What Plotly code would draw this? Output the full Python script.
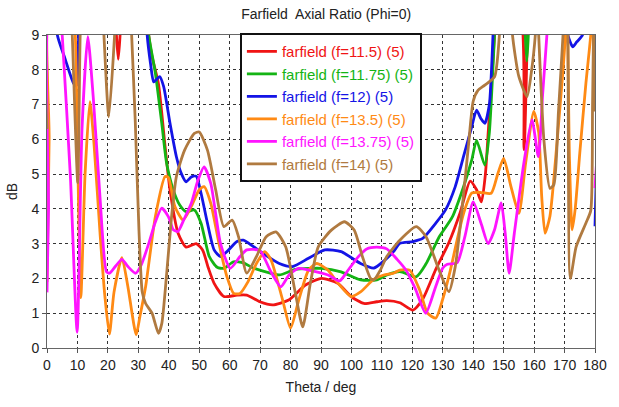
import plotly.graph_objects as go

# ---- data (theta in deg, axial ratio in dB; values of 10 = above visible range) ----
theta_115 = [0, 22.3, 22.8, 23.4, 24.0, 24.4, 32.5, 33.4, 34.5, 36.6, 38.8, 40.4, 43.1, 45.7, 49, 51.1, 53, 54.9, 58.1, 62.4,
             65.6, 69.9, 74.1, 79.4, 84.9, 90.2, 95.5, 99.9, 104.1, 108.3, 111.6, 115.9, 120.2, 123.4, 127.7, 132,
             135.7, 139, 141.1, 142.7, 144, 145, 147, 147.5, 154.8, 156.7, 157.8, 158.3, 180]
ar_115 = [10, 10, 9, 8.3, 9, 10, 10, 9, 8.38, 7.6, 5.79, 4.54, 3.29, 2.9, 3.0, 2.82, 2.3, 1.86, 1.48, 1.52,
          1.52, 1.33, 1.24, 1.38, 1.81, 2.0, 1.86, 1.48, 1.28, 1.33, 1.36, 1.3, 1.09, 1.4, 2.26, 3.03,
          3.89, 4.8, 4.55, 4.2, 5.0, 6.3, 9, 10, 10, 5.7, 9, 10, 10]

theta_1175 = [0, 32.5, 33.4, 35.6, 37.7, 39.3, 41.5, 43.6, 45.7, 48.4, 50.6, 53.3, 55.9, 58.1, 61.3, 64.5, 67.7, 69.9,
              76.3, 81.6, 90.2, 96.6, 103, 108.3, 111.6, 115.9, 121.3, 124.5, 128.8, 133.1, 136.8, 139.5, 141.1,
              143.8, 145.3, 147, 147.6, 156.8, 157.1, 157.6, 158.1, 158.4, 180]
ar_1175 = [10, 10, 9, 7.9, 6.46, 5.31, 4.54, 4.11, 3.92, 3.97, 3.59, 2.63, 2.32, 2.29, 2.48, 2.45, 2.3, 2.24,
           2.1, 2.26, 2.29, 2.19, 1.96, 1.96, 2.1, 2.2, 2.05, 2.42, 3.19, 3.76, 4.63, 5.4, 5.97,
           5.26, 6.2, 9, 10, 10, 9, 8.25, 9, 10, 10]

theta_12 = [0, 0.8, 3, 3.4, 6, 8.8, 9.7, 10.4, 10.8, 32.5, 32.9, 34, 35, 35.7, 37, 38.3, 40.4, 42.5, 44.1, 45.7, 47.4,
            49, 50.6, 52.7, 54.9, 57, 59.1, 62.4, 64.5, 67.7, 70.9, 76.3, 80.6, 85.9, 91.3, 96.6, 103, 107.4,
            110.6, 113.8, 115.9, 120.2, 123.4, 127.7, 130.9, 134.1, 136.8, 139.5, 141.1, 142.5, 143.8, 145.3,
            146.5, 147, 170, 171.1, 172.7, 174, 175.9, 176.5, 179.5, 180]
ar_12 = [7.5, 10, 10, 9, 8.3, 7.6, 7.55, 9, 10, 10, 9, 8.18, 7.65, 7.7, 7.8, 7.52, 6.46, 5.5, 5.02, 4.78, 4.92,
         4.94, 4.45, 3.59, 2.82, 2.63, 2.77, 3.06, 3.1, 2.92, 2.72, 2.43, 2.34, 2.58, 2.82, 2.77, 2.43, 2.3,
         2.5, 2.77, 3.01, 3.06, 3.15, 3.59, 3.97, 4.64, 5.5, 6.36, 6.84, 6.6, 6.46, 7.0,
         9, 10, 10, 9, 8.66, 8.8, 9, 10, 10, 3.5]

theta_135 = [0, 0.7, 1.2, 8.5, 9.3, 11.1, 12.5, 14.1, 15.5, 17.5, 19, 20.5, 22, 24.6, 26.5, 29.3, 30.5, 32.4, 35.6,
             38.8, 39.9, 42, 44.7, 47.4, 50, 51.6, 53.8, 56.5, 59.1, 61.3, 63.4, 66, 68.8, 71.5, 73.6, 77.4, 80,
             82.7, 85.9, 88.6, 92.3, 95.6, 99.9, 103.1, 107.4, 110.6, 113.8, 115.9, 119.1, 122.4, 125, 127.7,
             129.9, 132.5, 134.7, 136.8, 139.5, 142.7, 145.9, 148.1, 150, 152.4, 155, 157.2, 159.9, 161.5, 162.5,
             163.6, 165.2, 167.4, 169.5, 170.3, 170.8, 171.6, 172.5, 173.5, 175, 177, 178.6, 179.2, 180]
ar_135 = [1.9, 6, 10, 10, 9, 1.45, 5, 7.08, 5.8, 3.2, 1.5, 0.4, 1.6, 2.6, 1.8, 0.38, 0.9, 1.77, 3.78,
          4.93, 4.9, 4.07, 3.68, 4.07, 4.55, 4.64, 4.16, 3.0, 2.05, 1.57, 1.57, 1.9, 2.43, 2.77, 2.53, 1.38, 0.57,
          1.38, 2.24, 2.43, 2.24, 1.86, 1.48, 1.62, 1.98, 2.1, 2.15, 2.24, 2.24, 1.67, 1.0, 0.86,
          1.38, 2.24, 3.1, 3.86, 4.45, 4.47, 4.45, 5.02, 5.45, 4.64, 3.87, 5.31, 6.8, 6.2, 4.35,
          3.3, 3.79, 5.79, 8.0, 9, 10, 5.5, 3.4, 4.0, 5.6, 7.6, 9, 10, 7.2]

theta_1375 = [0, 0.5, 1.0, 4.3, 5, 7.7, 9.9, 11.5, 13.4, 15.2, 17.4, 19.5, 20.5, 22.5, 24.6, 26.5, 29.1, 31, 33.4,
              35.5, 37.7, 39.9, 41.5, 43, 45, 47.4, 49.5, 51.6, 53.8, 55.5, 57, 60.2, 63.4, 65.6, 69.9, 73.5,
              76.8, 79.5, 82.6, 86, 92.3, 96.1, 99, 102, 105, 108.3, 111.6, 115, 118, 121, 124.4, 127.6, 130,
              131.5, 134.7, 137.3, 140, 142.7, 144.9, 147, 149.2, 150.5, 151.8, 153.5, 156.6, 159.3, 161.4,
              162.8, 164.2, 164.8, 179.6, 180]
ar_1375 = [1.6, 4, 10, 10, 9, 4.9, 0.45, 6.3, 8.95, 7.2, 4.35, 2.2, 2.15, 2.35, 2.55, 2.35, 2.15, 2.4, 3.0,
           3.6, 4.02, 3.77, 3.4, 3.35, 3.7, 4.16, 4.8, 5.21, 4.73, 3.8, 3.0, 2.29, 2.63, 2.82, 2.8, 2.2,
           1.76, 2.1, 2.29, 2.24, 2.1, 1.93, 2.25, 2.6, 2.85, 2.9, 2.85, 2.55, 2.23, 1.7, 1.0, 1.75, 2.3,
           2.41, 2.45, 3.22, 4.2, 3.55, 3.0, 3.4, 4.17, 3.3, 2.15, 3.3, 5.3, 6.56, 5.5,
           7.3, 9, 10, 10, 4.6]

theta_14 = [0, 0.7, 7.8, 8.3, 10.1, 10.9, 11.4, 18.2, 18.7, 20.3, 22.2, 22.7, 27.3, 27.8, 29, 30.2, 31.3, 32.4, 34.5,
            36.6, 37.7, 39.3, 40.9, 42.5, 45.2, 48.4, 50, 52.7, 55.4, 58.1, 60.8, 62.9, 65.6, 68.8, 72, 75.2,
            78.4, 81.6, 84, 86.5, 89.1, 93.4, 97.7, 100.9, 103.6, 106.3, 107.4, 109.5, 111.6, 115.9, 121.3,
            124.5, 128.8, 132, 134.1, 136.3, 138.4, 140, 141.5, 143.8, 147, 148.6, 149.2, 152.4, 152.9, 155,
            157.7, 159.2, 160.4, 161, 161.5, 163.2, 165.2, 166.5, 168, 169.5, 170, 170.7, 171.1, 171.9, 173.8,
            177, 178.6, 179.2, 179.7, 180]
ar_14 = [6.3, 10, 10, 9, 4.75, 9, 10, 10, 9, 6.65, 9, 10, 10, 9, 6.5, 3.4, 1.6, 1.28, 1.0,
         0.42, 0.7, 2.13, 3.76, 4.93, 5.69, 6.17, 6.21, 5.69, 4.55, 3.49, 3.68, 3.2, 2.15, 2.63, 3.2, 3.34,
         2.91, 1.57, 0.61, 1.86, 2.91, 3.39, 3.63, 3.39, 2.63, 2.0, 1.96, 2.24, 2.63, 3.1, 3.49,
         3.2, 2.24, 1.62, 2.34, 3.97, 5.79, 7.1, 7.4, 7.56, 7.8, 9, 10, 10, 9, 7.8,
         7.23, 8, 9, 10, 9, 6, 4.59, 4.7, 6.8, 9, 10, 10, 9, 2.0, 2.91,
         3.59, 3.95, 7, 10, 6.8]

names = ["farfield (f=11.5) (5)", "farfield (f=11.75) (5)", "farfield (f=12) (5)",
         "farfield (f=13.5) (5)", "farfield (f=13.75) (5)", "farfield (f=14) (5)"]
colors = ["#f01414", "#14b414", "#1414e6", "#ff8a14", "#ff14ff", "#b07a40"]
x_ticks = list(range(0, 181, 10))
y_ticks = list(range(0, 10))

series = [(theta_115, ar_115), (theta_1175, ar_1175), (theta_12, ar_12),
          (theta_135, ar_135), (theta_1375, ar_1375), (theta_14, ar_14)]

fig = go.Figure()
for (xs, ys), nm, col in zip(series, names, colors):
    fig.add_trace(go.Scatter(
        x=xs, y=ys, mode="lines",
        name=f"<span style='color:{col}'>{nm}</span>",
        line=dict(color=col, width=2.8, shape="spline", smoothing=0.6),
    ))

font_family = "Liberation Sans, Arial, sans-serif"
fig.update_layout(
    width=619, height=407,
    margin=dict(l=46, r=13, t=35, b=59),
    paper_bgcolor="white", plot_bgcolor="white",
    font=dict(family=font_family, size=13, color="#222"),
    title=dict(text="Farfield  Axial Ratio (Phi=0)", x=0.527, xanchor="center", y=0.965, yanchor="middle",
               font=dict(size=14, color="#222")),
    legend=dict(x=0.352, y=1.006, xanchor="left", yanchor="top",
                bgcolor="white", bordercolor="#111", borderwidth=2,
                font=dict(size=15, family=font_family), itemwidth=30,
                tracegroupgap=0),
    showlegend=True,
)
fig.update_xaxes(range=[0, 180], tickvals=x_ticks, ticktext=[str(v) for v in x_ticks],
                 showgrid=True, gridcolor="#333", griddash="dot", gridwidth=1,
                 showline=True, linecolor="#666", linewidth=1, mirror=True,
                 ticks="outside", ticklen=4, tickcolor="#555", zeroline=False,
                 tickfont=dict(size=14),
                 title=dict(text="Theta / deg", standoff=10, font=dict(size=14)))
fig.update_yaxes(range=[0, 9], tickvals=y_ticks, ticktext=[str(v) for v in y_ticks],
                 showgrid=True, gridcolor="#333", griddash="dot", gridwidth=1,
                 showline=True, linecolor="#666", linewidth=1, mirror=True,
                 ticks="outside", ticklen=4, tickcolor="#555", zeroline=False,
                 tickfont=dict(size=14),
                 title=dict(text="dB", standoff=10, font=dict(size=14)))

fig.write_html("out.html")
